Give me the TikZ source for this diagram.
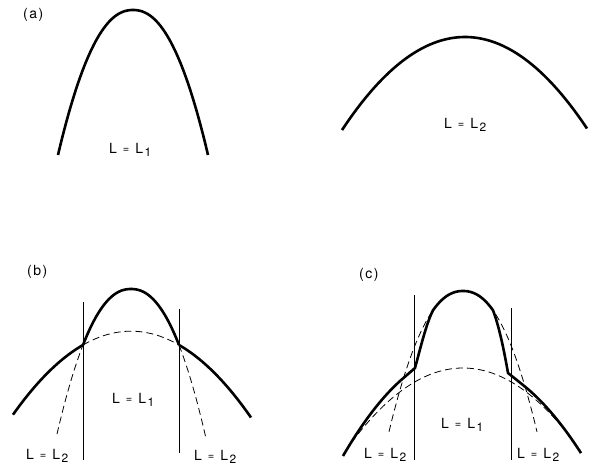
\documentclass[tikz,border=0pt]{standalone}
\usepackage{fontspec}
\setmainfont{TeX Gyre Heros}
\newcommand\lLab[1]{L\hspace{6pt}\raisebox{0.5pt}{\fontsize{11}{11}\selectfont =}\hspace{6pt}L\hspace{1.5pt}\raisebox{-3.5pt}{\fontsize{12}{12}\selectfont #1}}
\newcommand\pLab[1]{(\hspace{1.5pt}#1\hspace{1.5pt})}
\begin{document}
\begin{tikzpicture}[x=1pt,y=-1pt,
  thickc/.style={line width=2.6pt, line join=round},
  thinl/.style={line width=0.9pt},
  dashc/.style={line width=0.8pt, dash pattern=on 7pt off 4pt},
  lbl/.style={font=\fontsize{14}{14}\selectfont, inner sep=0pt, anchor=base west}]
\useasboundingbox (0,0) rectangle (592,474);

% ---------- (a) ----------
\node[lbl] (pa) at (23,18) {\pLab{a}};
\draw[thickc] plot[domain=58:208, samples=81] (\x,{10+145*pow((abs(\x-133)+0.001)/75,2.2)});
\node[lbl] (a1) at (109,153) {\lLab{1}};
\draw[thickc] plot[domain=342:587, samples=81] (\x,{37+0.00615*(\x-465)^2});
\node[lbl] (a2) at (444,128) {\lLab{2}};

% ---------- (b) ----------
\node[lbl] (pb) at (27,275) {\pLab{b}};
% thick L1 middle
\draw[thickc] plot[domain=83:179, samples=61] (\x,{289+56*pow((abs(\x-131)+0.001)/48,2.2)});
% thick L2 outer
\draw[thickc] plot[domain=13:83, samples=40] (\x,{345+0.006*((\x-131)^2-2304)});
\draw[thickc] plot[domain=179:251, samples=40] (\x,{345+0.006*((\x-131)^2-2304)});
% dashed L2 middle
\draw[dashc] plot[domain=83:179, samples=61] (\x,{345+0.006*((\x-131)^2-2304)});
% dashed L1 outer
\draw[dashc] plot[domain=57:83, samples=30] (\x,{289+56*pow((abs(\x-131)+0.001)/48,2.2)});
\draw[dashc] plot[domain=179:206, samples=30] (\x,{289+56*pow((abs(\x-131)+0.001)/48,2.2)});
% vertical lines
\coordinate (bl1) at (83,302); \coordinate (bl2) at (83,460);
\coordinate (br1) at (179,309); \coordinate (br2) at (179,453);
\draw[thinl] (bl1) -- (bl2);
\draw[thinl] (br1) -- (br2);
\node[lbl] (b1) at (112,403) {\lLab{1}};
\node[lbl] (b2l) at (26,459) {\lLab{2}};
\node[lbl] (b2r) at (194,460) {\lLab{2}};

% ---------- (c) ----------
\node[lbl] (pc) at (359,278) {\pLab{c}};
% dashed L2
\draw[dashc] plot[domain=345:580, samples=90] (\x,{368+0.006*(\x-463)^2});
% dashed L1
\draw[dashc] plot[domain=389:537, samples=90] (\x,{291+145*pow((abs(\x-463)+0.001)/75,2.2)});
% thick composite
\draw[thickc] plot[domain=343:400, samples=30] (\x,{352.5+0.00719*(\x-463)^2})
  -- (415,368) .. controls (420,350) and (426,324) .. (433,310.3)
  -- plot[domain=433:493, samples=41] (\x,{291+145*pow((abs(\x-463)+0.001)/75,2.2)})
  .. controls (499,326) and (504,350) .. (508,373)
  -- (523,385)
  -- plot[domain=523:581, samples=30] (\x,{361.3+0.00659*(\x-463)^2});
% vertical lines
\coordinate (cl1) at (414,295); \coordinate (cl2) at (414,460);
\coordinate (cr1) at (511,308); \coordinate (cr2) at (511,460);
\draw[thinl] (cl1) -- (cl2);
\draw[thinl] (cr1) -- (cr2);
\node[lbl] (c1) at (441,428) {\lLab{1}};
\node[lbl] (c2l) at (364,458) {\lLab{2}};
\node[lbl] (c2r) at (517,458) {\lLab{2}};
\end{tikzpicture}
\end{document}
